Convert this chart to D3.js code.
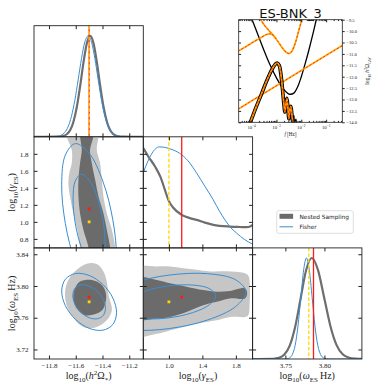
<!DOCTYPE html>
<html>
<head>
<meta charset="utf-8">
<script src="https://cdn.jsdelivr.net/npm/d3@7"></script>
<style>
  body { margin: 0; background: #fff; }
  svg { display: block; font-family: "Liberation Serif", serif; }
</style>
</head>
<body>
<script>
// ---- parameter ranges and ticks ----
const omegaDomain = [-11.912, -11.095];
const gammaDomain = [0.694, 2.0];
const wDomain = [3.708, 3.848];

const omegaTicks = [-11.8, -11.6, -11.4, -11.2];
const gammaXTicks = [1.0, 1.4, 1.8];
const gammaYTicks = [0.8, 1.0, 1.2, 1.4, 1.6, 1.8];
const wXTicks = [3.75, 3.80];
const wYTicks = [3.72, 3.76, 3.80, 3.84];

// injected (yellow) and recovered (red) values: [Omega, gamma, omega]
const injected = [-11.5, 1.0, 3.78];
const recovered = [-11.5, 1.153, 3.786];

// ---- 1D marginals [value, density] ----
const omegaNS = [[-11.912,0],[-11.746,0.001],[-11.696,0.008],[-11.667,0.025],[-11.642,0.064],[-11.617,0.149],[-11.592,0.295],[-11.567,0.503],[-11.542,0.737],[-11.517,0.927],[-11.492,1.0],[-11.467,0.927],[-11.442,0.737],[-11.417,0.503],[-11.392,0.295],[-11.367,0.149],[-11.342,0.064],[-11.317,0.024],[-11.292,0.008],[-11.242,0.001],[-11.095,0]];
const omegaFisher = [[-11.912,0],[-11.807,0.0001],[-11.757,0.002],[-11.707,0.017],[-11.682,0.044],[-11.657,0.100],[-11.632,0.203],[-11.607,0.360],[-11.582,0.563],[-11.557,0.775],[-11.532,0.938],[-11.507,1.0],[-11.482,0.938],[-11.457,0.775],[-11.432,0.563],[-11.407,0.360],[-11.382,0.203],[-11.357,0.100],[-11.332,0.044],[-11.307,0.017],[-11.257,0.002],[-11.207,0.0001],[-11.095,0]];
const gammaNS = [[0.694,0.988],[0.75,0.91],[0.834,0.806],[0.9,0.70],[0.95,0.58],[0.993,0.476],[1.05,0.40],[1.153,0.327],[1.25,0.295],[1.332,0.277],[1.43,0.25],[1.53,0.228],[1.73,0.211],[1.85,0.207],[1.929,0.205],[1.97,0.212],[2.0,0.228]];
const gammaFisher = [[0.694,0.746],[0.75,0.86],[0.80,0.94],[0.885,1.0],[0.95,0.995],[1.05,0.97],[1.153,0.922],[1.25,0.84],[1.332,0.74],[1.43,0.61],[1.53,0.476],[1.60,0.37],[1.67,0.277],[1.74,0.20],[1.81,0.146],[1.90,0.085],[2.0,0.037]];
const wNS = [[3.708,0],[3.7347,0.002],[3.7417,0.011],[3.7487,0.044],[3.7557,0.135],[3.7627,0.325],[3.7697,0.607],[3.7767,0.883],[3.7837,1.0],[3.7917,0.883],[3.7997,0.607],[3.8077,0.325],[3.8157,0.135],[3.8237,0.044],[3.8317,0.013],[3.8397,0.004],[3.848,0.001]];
const wFisher = [[3.708,0],[3.748,0.0003],[3.7518,0.002],[3.7553,0.011],[3.7589,0.044],[3.7625,0.135],[3.7661,0.325],[3.7698,0.607],[3.7734,0.883],[3.777,1.0],[3.7806,0.883],[3.7843,0.607],[3.7879,0.325],[3.7915,0.135],[3.7951,0.044],[3.7988,0.011],[3.8024,0.002],[3.806,0.0003],[3.848,0]];

// ---- 2D nested sampling regions (outer = light, inner = dark) ----
const omGamLight = [[-11.668,2.1],[-11.668,2.004],[-11.63,1.847],[-11.63,1.69],[-11.648,1.573],[-11.655,1.455],[-11.643,1.298],[-11.618,1.102],[-11.588,0.906],[-11.568,0.702],[-11.56,0.6],[-11.30,0.6],[-11.305,0.702],[-11.33,0.906],[-11.368,1.102],[-11.393,1.298],[-11.405,1.494],[-11.418,1.69],[-11.443,1.847],[-11.43,2.004],[-11.43,2.1]];
const omGamDark = [[-11.568,2.1],[-11.568,2.004],[-11.555,1.847],[-11.568,1.69],[-11.58,1.494],[-11.58,1.298],[-11.568,1.102],[-11.543,0.906],[-11.505,0.702],[-11.50,0.6],[-11.34,0.6],[-11.343,0.702],[-11.368,0.906],[-11.393,1.102],[-11.43,1.298],[-11.455,1.494],[-11.48,1.69],[-11.493,1.847],[-11.468,2.004],[-11.468,2.1]];
const omWLight = [[-11.68,3.7928],[-11.655,3.8077],[-11.593,3.8204],[-11.518,3.8281],[-11.443,3.8276],[-11.393,3.8183],[-11.368,3.8056],[-11.355,3.7886],[-11.33,3.7695],[-11.368,3.7567],[-11.443,3.7482],[-11.518,3.747],[-11.58,3.7525],[-11.63,3.7631],[-11.668,3.7758]];
const omWDark = [[-11.605,3.7971],[-11.568,3.8056],[-11.48,3.8077],[-11.405,3.8013],[-11.373,3.7886],[-11.393,3.7716],[-11.443,3.7652],[-11.53,3.7631],[-11.593,3.7716],[-11.618,3.7843]];
const gamWLight = [[0.6,3.8225],[0.853,3.8247],[1.012,3.8247],[1.171,3.8225],[1.331,3.8204],[1.49,3.8183],[1.729,3.8183],[1.908,3.8162],[1.95,3.813],[1.968,3.80],[1.965,3.78],[1.948,3.7631],[1.908,3.761],[1.729,3.761],[1.57,3.7567],[1.331,3.7525],[1.171,3.7482],[1.012,3.744],[0.853,3.7397],[0.6,3.7376]];
const gamWDark = [[0.6,3.8098],[0.853,3.8077],[1.012,3.8034],[1.211,3.7992],[1.41,3.7949],[1.57,3.7928],[1.729,3.7937],[1.908,3.7971],[1.935,3.7905],[1.908,3.7843],[1.729,3.7843],[1.57,3.7801],[1.41,3.7758],[1.211,3.7673],[1.012,3.761],[0.853,3.7589],[0.6,3.7589]];

// ---- Fisher ellipses (inner, outer) ----
const omGamInner = [[-11.38,0.731],[-11.396,0.522],[-11.44,0.44],[-11.5,0.509],[-11.56,0.709],[-11.604,0.987],[-11.62,1.269],[-11.604,1.478],[-11.56,1.56],[-11.5,1.491],[-11.44,1.291],[-11.396,1.013]];
const omGamOuter = [[-11.295,0.558],[-11.3225,0.214],[-11.3975,0.08],[-11.5,0.193],[-11.6025,0.522],[-11.6775,0.979],[-11.705,1.442],[-11.6775,1.786],[-11.6025,1.92],[-11.5,1.807],[-11.3975,1.478],[-11.3225,1.021]];
const omWInner = [[-11.378,3.7718],[-11.3943,3.763],[-11.439,3.7587],[-11.5,3.7601],[-11.561,3.7669],[-11.6057,3.7771],[-11.622,3.7882],[-11.6057,3.797],[-11.561,3.8013],[-11.5,3.7999],[-11.439,3.7931],[-11.3943,3.7829]];
const omWOuter = [[-11.295,3.7663],[-11.3225,3.7515],[-11.3975,3.7443],[-11.5,3.7467],[-11.6025,3.758],[-11.6775,3.7752],[-11.705,3.7937],[-11.6775,3.8085],[-11.6025,3.8157],[-11.5,3.8133],[-11.3975,3.802],[-11.3225,3.7848]];
const gamWInner = [[1.56,3.7875],[1.485,3.7765],[1.28,3.7663],[1.0,3.7599],[0.72,3.7588],[0.515,3.7634],[0.44,3.7725],[0.515,3.7835],[0.72,3.7937],[1.0,3.8001],[1.28,3.8012],[1.485,3.7966]];
const gamWOuter = [[1.92,3.7926],[1.7967,3.7741],[1.46,3.7571],[1.0,3.7463],[0.54,3.7445],[0.2033,3.7522],[0.08,3.7674],[0.2033,3.7859],[0.54,3.8029],[1.0,3.8137],[1.46,3.8155],[1.7967,3.8078]];

// ---- inset spectrum: [log10 f, log10 h^2 Omega] ----
const insetLisa = [[-3.98,-9.5],[-3.75,-10.15],[-3.5,-10.85],[-3.25,-11.5],[-3.0,-12.05],[-2.75,-12.5],[-2.5,-12.76],[-2.3,-12.72],[-2.15,-12.45],[-2.0,-12.0],[-1.85,-11.45],[-1.7,-10.85],[-1.55,-10.2],[-1.42,-9.6],[-1.39,-9.45]];
const insetBroken = [[-4.55,-10.89],[-4.2,-10.66],[-3.9,-10.46],[-3.6,-10.27],[-3.4,-10.15],[-3.25,-10.12],[-3.12,-10.2],[-3.02,-10.33]];
const insetBucket = [[-3.66,-9.45],[-3.5,-9.72],[-3.3,-9.98],[-3.1,-10.22],[-2.9,-10.52],[-2.72,-10.8],[-2.58,-10.95],[-2.48,-10.98],[-2.38,-10.88],[-2.25,-10.55],[-2.12,-10.05],[-2.02,-9.65],[-1.98,-9.45]];
const insetPowerLaw = [[-4.55,-13.43],[-0.3,-10.6]];
const insetSignal = [[-4.1,-14.15],[-3.85,-13.42],[-3.6,-12.75],[-3.4,-12.2],[-3.2,-11.72],[-3.06,-11.47],[-2.97,-11.4],[-2.89,-11.5],[-2.83,-11.82],[-2.77,-12.4],[-2.71,-13.1],[-2.66,-13.55],[-2.62,-13.2],[-2.58,-12.95],[-2.54,-13.35],[-2.5,-13.85],[-2.46,-13.45],[-2.42,-13.3],[-2.38,-13.65],[-2.33,-14.15]];
const insetTail = [[-2.36,-14.1],[-2.3,-13.7],[-2.26,-14.1],[-2.22,-13.85],[-2.18,-14.1]];
const insetXTicks = [-4, -3, -2, -1];
const insetYTicks = [-9.5, -10, -10.5, -11, -11.5, -12, -12.5, -13, -13.5, -14];

// ---- colours ----
const cLight = "#c6c6c6", cDark = "#6b6b6b", cBlue = "#3a8dd0";
const cRed = "#ff1a1a", cGold = "#ffd700", cOrange = "#ffaa00";

const svg = d3.select("body").append("svg").attr("width", 374).attr("height", 389);

const colX = [34, 143.3, 252.6], rowY = [25.7, 136.8, 247.9];
const pw = 109.3, ph = 111.1;
const params = [
    {dom: omegaDomain, xt: omegaTicks, yt: [], fmt: d3.format(".1f")},
    {dom: gammaDomain, xt: gammaXTicks, yt: gammaYTicks, fmt: d3.format(".1f")},
    {dom: wDomain, xt: wXTicks, yt: wYTicks, fmt: d3.format(".2f")}
];

// text with sub/superscripts
function rich(text, parts, fs) {
    let shift = 0;
    parts.forEach(([t, k]) => {
        const target = k === "sub" ? 0.28 * fs : k === "sup" ? -0.4 * fs : 0;
        const ts = text.append("tspan").text(t);
        if (target !== shift) ts.attr("dy", target - shift);
        shift = target;
        if (k === "sub" || k === "sup") ts.attr("font-size", fs * 0.7);
        if (k === "it") ts.attr("font-style", "italic");
    });
}

const xScale = j => d3.scaleLinear().domain(params[j].dom).range([colX[j], colX[j] + pw]);
const yScale = i => d3.scaleLinear().domain(params[i].dom).range([rowY[i] + ph, rowY[i]]);

function frame(g, i, j, x, yTickScale) {
    const p = params[j];
    const styleAxis = a => a.attr("font-family", "Liberation Serif").attr("font-size", 7).attr("color", "#222")
                            .call(s => s.select(".domain").remove());
    g.append("g").attr("transform", `translate(0,${rowY[i] + ph})`)
        .call(d3.axisBottom(x).tickValues(p.xt).tickSize(-3.5).tickPadding(4.5)
              .tickFormat(i === 2 ? p.fmt : () => ""))
        .call(styleAxis);
    g.append("g").attr("transform", `translate(0,${rowY[i]})`)
        .call(d3.axisTop(x).tickValues(p.xt).tickSize(-3.5).tickFormat(() => ""))
        .call(styleAxis);
    if (yTickScale) {
        const yt = params[i].yt;
        g.append("g").attr("transform", `translate(${colX[j]},0)`)
            .call(d3.axisLeft(yTickScale).tickValues(yt).tickSize(-3.5).tickPadding(5.5)
                  .tickFormat(j === 0 && i !== j ? params[i].fmt : () => ""))
            .call(styleAxis);
        g.append("g").attr("transform", `translate(${colX[j] + pw},0)`)
            .call(d3.axisRight(yTickScale).tickValues(yt).tickSize(-3.5).tickFormat(() => ""))
            .call(styleAxis);
    }
    g.append("rect").attr("x", colX[j]).attr("y", rowY[i]).attr("width", pw).attr("height", ph)
        .attr("fill", "none").attr("stroke", "#222").attr("stroke-width", 0.9);
}

function clipFor(i, j) {
    const id = `clip-${i}-${j}`;
    svg.append("clipPath").attr("id", id).append("rect")
        .attr("x", colX[j]).attr("y", rowY[i]).attr("width", pw).attr("height", ph);
    return `url(#${id})`;
}

// ---- diagonal panels ----
const diag = [[omegaNS, omegaFisher], [gammaNS, gammaFisher], [wNS, wFisher]];
diag.forEach(([ns, fisher], k) => {
    const x = xScale(k);
    const y = d3.scaleLinear().domain([0, 1.1]).range([rowY[k] + ph, rowY[k]]);
    const g = svg.append("g");
    const inner = g.append("g").attr("clip-path", clipFor(k, k));
    const line = d3.line().x(d => x(d[0])).y(d => y(d[1])).curve(d3.curveMonotoneX);
    inner.append("path").attr("d", line(ns)).attr("fill", "none").attr("stroke", "#6e6e6e").attr("stroke-width", 2.2);
    inner.append("path").attr("d", line(fisher)).attr("fill", "none").attr("stroke", cBlue).attr("stroke-width", 1);
    inner.append("line").attr("x1", x(recovered[k])).attr("x2", x(recovered[k]))
        .attr("y1", rowY[k]).attr("y2", rowY[k] + ph).attr("stroke", cRed).attr("stroke-width", 1.3);
    inner.append("line").attr("x1", x(injected[k])).attr("x2", x(injected[k]))
        .attr("y1", rowY[k]).attr("y2", rowY[k] + ph).attr("stroke", cGold).attr("stroke-width", 1.3)
        .attr("stroke-dasharray", "3.5,2");
    frame(g, k, k, x, k === 0 ? null : yScale(k));
});

// ---- off-diagonal panels ----
const pairs = [
    {i: 1, j: 0, light: omGamLight, dark: omGamDark, f: [omGamInner, omGamOuter]},
    {i: 2, j: 0, light: omWLight, dark: omWDark, f: [omWInner, omWOuter]},
    {i: 2, j: 1, light: gamWLight, dark: gamWDark, f: [gamWInner, gamWOuter]}
];
pairs.forEach(({i, j, light, dark, f}) => {
    const x = xScale(j), y = yScale(i);
    const g = svg.append("g");
    const inner = g.append("g").attr("clip-path", clipFor(i, j));
    const shape = d3.line().x(d => x(d[0])).y(d => y(d[1])).curve(d3.curveCatmullRomClosed.alpha(0.5));
    inner.append("path").attr("d", shape(light)).attr("fill", cLight);
    inner.append("path").attr("d", shape(dark)).attr("fill", cDark);
    f.forEach(e => inner.append("path").attr("d", shape(e)).attr("fill", "none")
        .attr("stroke", cBlue).attr("stroke-width", 1));
    [[recovered, cRed], [injected, cGold]].forEach(([v, c]) => {
        inner.append("rect").attr("x", x(v[j]) - 1.4).attr("y", y(v[i]) - 1.4)
            .attr("width", 2.8).attr("height", 2.8).attr("fill", c);
    });
    frame(g, i, j, x, y);
});

// ---- axis labels ----
const labels = [
    [["log"], ["10", "sub"], ["("], ["h", "it"], ["2", "sup"], ["Ω"], ["*", "sub"], [")"]],
    [["log"], ["10", "sub"], ["("], ["γ", "it"], ["ES", "sub"], [")"]],
    [["log"], ["10", "sub"], ["("], ["ω", "it"], ["ES", "sub"], ["\u2009Hz"], [")"]]
];
labels.forEach((parts, k) => {
    rich(svg.append("text").attr("x", colX[k] + pw / 2).attr("y", 379)
        .attr("text-anchor", "middle").attr("font-size", 10).attr("fill", "#222"), parts, 10);
});
[1, 2].forEach(k => {
    rich(svg.append("text").attr("transform", `translate(15,${rowY[k] + ph / 2}) rotate(-90)`)
        .attr("text-anchor", "middle").attr("font-size", 10).attr("fill", "#222"), labels[k], 10);
});

// ---- legend ----
const lg = svg.append("g").attr("font-family", "DejaVu Sans, sans-serif").attr("font-size", 5.8);
lg.append("rect").attr("x", 276.7).attr("y", 210.7).attr("width", 76.6).attr("height", 22.6)
    .attr("rx", 2).attr("fill", "#fff").attr("stroke", "#d6d6d6").attr("stroke-width", 0.8);
lg.append("rect").attr("x", 279.5).attr("y", 213.8).attr("width", 13.6).attr("height", 5)
    .attr("fill", cDark);
lg.append("text").attr("x", 299.5).attr("y", 218.6).attr("fill", "#222").text("Nested Sampling");
lg.append("line").attr("x1", 279.5).attr("x2", 293.1).attr("y1", 226.8).attr("y2", 226.8)
    .attr("stroke", cBlue).attr("stroke-width", 1);
lg.append("text").attr("x", 299.5).attr("y", 228.7).attr("fill", "#222").text("Fisher");

// ---- inset ----
const ix = d3.scaleLog().domain([Math.pow(10, -4.52), Math.pow(10, -0.35)]).range([238.7, 342.3]);
const iy = d3.scaleLinear().domain([-14, -9.5]).range([122.3, 19.7]);
const ins = svg.append("g");
svg.append("clipPath").attr("id", "clip-inset").append("rect")
    .attr("x", 238.7).attr("y", 19.7).attr("width", 103.6).attr("height", 102.6);
const ic = ins.append("g").attr("clip-path", "url(#clip-inset)");
const iline = (curve) => d3.line().x(d => ix(Math.pow(10, d[0]))).y(d => iy(d[1])).curve(curve);
const smooth = iline(d3.curveCatmullRom.alpha(0.5));
const straight = iline(d3.curveLinear);

function dashed(sel, d, w) {
    sel.append("path").attr("d", d).attr("fill", "none").attr("stroke", cOrange).attr("stroke-width", w);
    sel.append("path").attr("d", d).attr("fill", "none").attr("stroke", cRed).attr("stroke-width", w * 0.5)
        .attr("stroke-dasharray", "2,2");
}
ic.append("path").attr("d", smooth(insetLisa)).attr("fill", "none").attr("stroke", "#000").attr("stroke-width", 1.3);
dashed(ic, straight(insetPowerLaw), 1.7);
dashed(ic, smooth(insetBroken), 1.7);
dashed(ic, smooth(insetBucket), 1.7);
ic.append("path").attr("d", smooth(insetTail)).attr("fill", "none").attr("stroke", "#000").attr("stroke-width", 1);
ic.append("path").attr("d", smooth(insetSignal)).attr("fill", "none").attr("stroke", "#000").attr("stroke-width", 3.6);
dashed(ic, smooth(insetSignal), 1.7);

const minor = [];
[-5, -4, -3, -2, -1].forEach(e => d3.range(2, 10).forEach(m => {
    const v = m * Math.pow(10, e);
    if (v > ix.domain()[0] && v < ix.domain()[1]) minor.push(v);
}));
const major = insetXTicks.map(e => Math.pow(10, e));
const iStyle = a => a.attr("color", "#222").call(s => s.select(".domain").remove());
ins.append("g").attr("transform", "translate(0,122.3)")
    .call(d3.axisBottom(ix).tickValues(major).tickSize(-2.6).tickFormat(() => "")).call(iStyle);
ins.append("g").attr("transform", "translate(0,122.3)")
    .call(d3.axisBottom(ix).tickValues(minor).tickSize(-1.4).tickFormat(() => "")).call(iStyle);
ins.append("g").attr("transform", "translate(0,19.7)")
    .call(d3.axisTop(ix).tickValues(major).tickSize(-2.6).tickFormat(() => "")).call(iStyle);
ins.append("g").attr("transform", "translate(0,19.7)")
    .call(d3.axisTop(ix).tickValues(minor).tickSize(-1.4).tickFormat(() => "")).call(iStyle);
ins.append("g").attr("transform", "translate(238.7,0)")
    .call(d3.axisLeft(iy).tickValues(insetYTicks).tickSize(-2.4).tickFormat(() => "")).call(iStyle);
ins.append("g").attr("transform", "translate(342.3,0)")
    .call(d3.axisRight(iy).tickValues(insetYTicks).tickSize(2.4).tickPadding(1.6).tickFormat(d3.format(".1f")))
    .call(iStyle)
    .attr("font-family", "Liberation Serif").attr("font-size", 4.6);
ins.append("rect").attr("x", 238.7).attr("y", 19.7).attr("width", 103.6).attr("height", 102.6)
    .attr("fill", "none").attr("stroke", "#222").attr("stroke-width", 0.8);
insetXTicks.forEach(e => {
    rich(ins.append("text").attr("x", ix(Math.pow(10, e))).attr("y", 128.6).attr("text-anchor", "middle")
        .attr("font-size", 4.8).attr("fill", "#222"), [["10"], [`−${-e}`, "sup"]], 4.8);
});
rich(ins.append("text").attr("x", 290.5).attr("y", 135.5).attr("text-anchor", "middle")
    .attr("font-size", 5.2).attr("fill", "#222"), [["f", "it"], ["\u2009[Hz]"]], 5.2);
rich(ins.append("text").attr("transform", "translate(369,71) rotate(-90)").attr("text-anchor", "middle")
    .attr("font-size", 5.6).attr("fill", "#222"),
    [["log"], ["10", "sub"], ["\u2009"], ["h", "it"], ["2", "sup"], ["Ω"], ["GW", "sub"]], 5.6);

svg.append("text").attr("x", 290.5).attr("y", 18.2).attr("text-anchor", "middle")
    .attr("font-family", "DejaVu Sans, sans-serif").attr("font-size", 13).attr("fill", "#111")
    .text("ES-BNK_3");
</script>
</body>
</html>
